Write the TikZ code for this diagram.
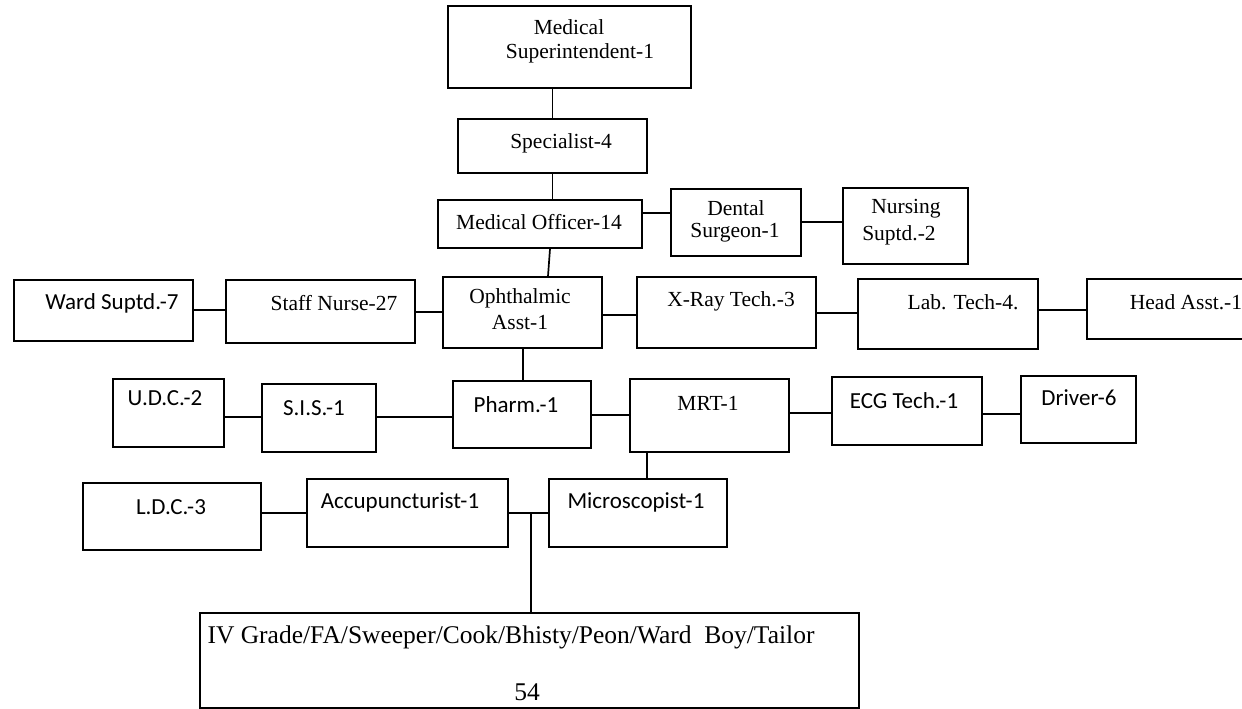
\documentclass[tikz,border=0pt]{standalone}
\usepackage{fontspec}
\setmainfont{Liberation Serif}
\newfontfamily\calsans{Carlito}
\usetikzlibrary{fit}

\tikzset{
  box/.style={draw, line width=1.8pt, inner sep=0pt},
  link/.style={line width=1.7pt},
  serif/.style={inner sep=0pt, font=\fontsize{21.5}{24}\selectfont},
  sans/.style={inner sep=0pt, font=\calsans\fontsize{23}{26}\selectfont},
  big/.style={inner sep=0pt, font=\fontsize{25.5}{28}\selectfont}
}

\begin{document}
\begin{tikzpicture}[x=1pt, y=-1pt]
\useasboundingbox (0,0) rectangle (1242,709);

% ---- boxes ----
\node[box, fit={(448,6) (691,88)}]     (ms)    {};
\node[box, fit={(458,119) (647,173)}]  (spec)  {};
\node[box, fit={(438,200) (642,248)}]  (mo)    {};
\node[box, fit={(671,189) (801,256)}]  (dent)  {};
\node[box, fit={(843,188) (968,264)}]  (nurs)  {};

\node[box, fit={(14,280) (193,341)}]   (ward)  {};
\node[box, fit={(226,280) (415,343)}]  (staff) {};
\node[box, fit={(443,277) (602,348)}]  (oph)   {};
\node[box, fit={(637,277) (816,348)}]  (xray)  {};
\node[box, fit={(858,279) (1038,349)}] (lab)   {};
\node[box, fit={(1087,279) (1250,339)}] (head) {};

\node[box, fit={(113,379) (224,447)}]  (udc)   {};
\node[box, fit={(262,384) (376,452)}]  (sis)   {};
\node[box, fit={(453,381) (591,448)}]  (pharm) {};
\node[box, fit={(630,379) (789,452)}]  (mrt)   {};
\node[box, fit={(832,377) (982,445)}]  (ecg)   {};
\node[box, fit={(1021,376) (1136,443)}] (drv)  {};

\node[box, fit={(83,483) (261,550)}]   (ldc)   {};
\node[box, fit={(307,479) (508,547)}]  (acc)   {};
\node[box, fit={(549,479) (727,547)}]  (micro) {};

\node[box, fit={(200,613) (859,708)}]  (iv)    {};

% ---- labels ----
\node[serif] (ms-a)    at (569,27)   {Medical};
\node[serif] (ms-b)    at (580,53)   {Superintendent-1};
\node[serif] (spec-t)  at (561,143)  {Specialist-4};
\node[serif] (mo-t)    at (539,222)  {Medical Officer-14};
\node[serif] (dent-a)  at (736,208)  {Dental};
\node[serif] (dent-b)  at (735,233)  {Surgeon-1};
\node[serif] (nurs-a)  at (906,209)  {Nursing};
\node[serif] (nurs-b)  at (899,235)  {Suptd.-2};

\node[sans]  (ward-t)  at (112,303)  {Ward Suptd.-7};
\node[serif] (staff-t) at (334,303)  {Staff Nurse-27};
\node[serif] (oph-a)   at (520,298)  {Ophthalmic};
\node[serif] (oph-b)   at (520,323)  {Asst-1};
\node[serif] (xray-t)  at (731,301)  {X-Ray Tech.-3};
\node[serif] (lab-t)   at (963,302)  {Lab. Tech-4.};
\node[serif] (head-t)  at (1186,302) {Head Asst.-1};

\node[sans]  (udc-t)   at (165,398)  {U.D.C.-2};
\node[sans]  (sis-t)   at (314,408)  {S.I.S.-1};
\node[sans]  (pharm-t) at (516,405)  {Pharm.-1};
\node[serif] (mrt-t)   at (708,403)  {MRT-1};
\node[sans]  (ecg-t)   at (904,401)  {ECG Tech.-1};
\node[sans]  (drv-t)   at (1079,398) {Driver-6};

\node[sans]  (ldc-t)   at (171,507)  {L.D.C.-3};
\node[sans]  (acc-t)   at (400,502)  {Accupuncturist-1};
\node[sans]  (micro-t) at (636,502)  {Microscopist-1};

\node[big]   (iv-a)    at (511,637)  {IV Grade/FA/Sweeper/Cook/Bhisty/Peon/Ward\ \ Boy/Tailor};
\node[big]   (iv-b)    at (527,692)  {54};

% ---- connectors ----
\draw[link] (spec.north |- ms.south) -- (spec.north);
\draw[link] (spec.south) -- (spec.south |- mo.north);
\draw[link] (mo.east |- 0,213) -- (dent.west |- 0,213);
\draw[link] (dent.east |- 0,222) -- (nurs.west |- 0,222);
\draw[link] (mo.south -| 550,0) -- (oph.north -| 548,0);

\draw[link] (ward.east |- 0,310) -- (staff.west |- 0,310);
\draw[link] (staff.east |- 0,312) -- (oph.west |- 0,312);
\draw[link] (oph.east |- 0,315) -- (xray.west |- 0,315);
\draw[link] (xray.east |- 0,313) -- (lab.west |- 0,313);
\draw[link] (lab.east |- 0,310) -- (head.west |- 0,310);

\draw[link] (oph.south -| 523,0) -- (pharm.north -| 523,0);
\draw[link] (udc.east |- 0,417) -- (sis.west |- 0,417);
\draw[link] (sis.east |- 0,417) -- (pharm.west |- 0,417);
\draw[link] (pharm.east |- 0,415) -- (mrt.west |- 0,415);
\draw[link] (mrt.east |- 0,413) -- (ecg.west |- 0,413);
\draw[link] (ecg.east |- 0,414) -- (drv.west |- 0,414);

\draw[link] (mrt.south -| 647,0) -- (micro.north -| 647,0);
\draw[link] (ldc.east |- 0,513) -- (acc.west |- 0,513);
\draw[link] (acc.east |- 0,513) -- (micro.west |- 0,513);
\coordinate (tee) at (531,513);
\draw[link] (tee) -- (iv.north -| tee);
\end{tikzpicture}
\end{document}
